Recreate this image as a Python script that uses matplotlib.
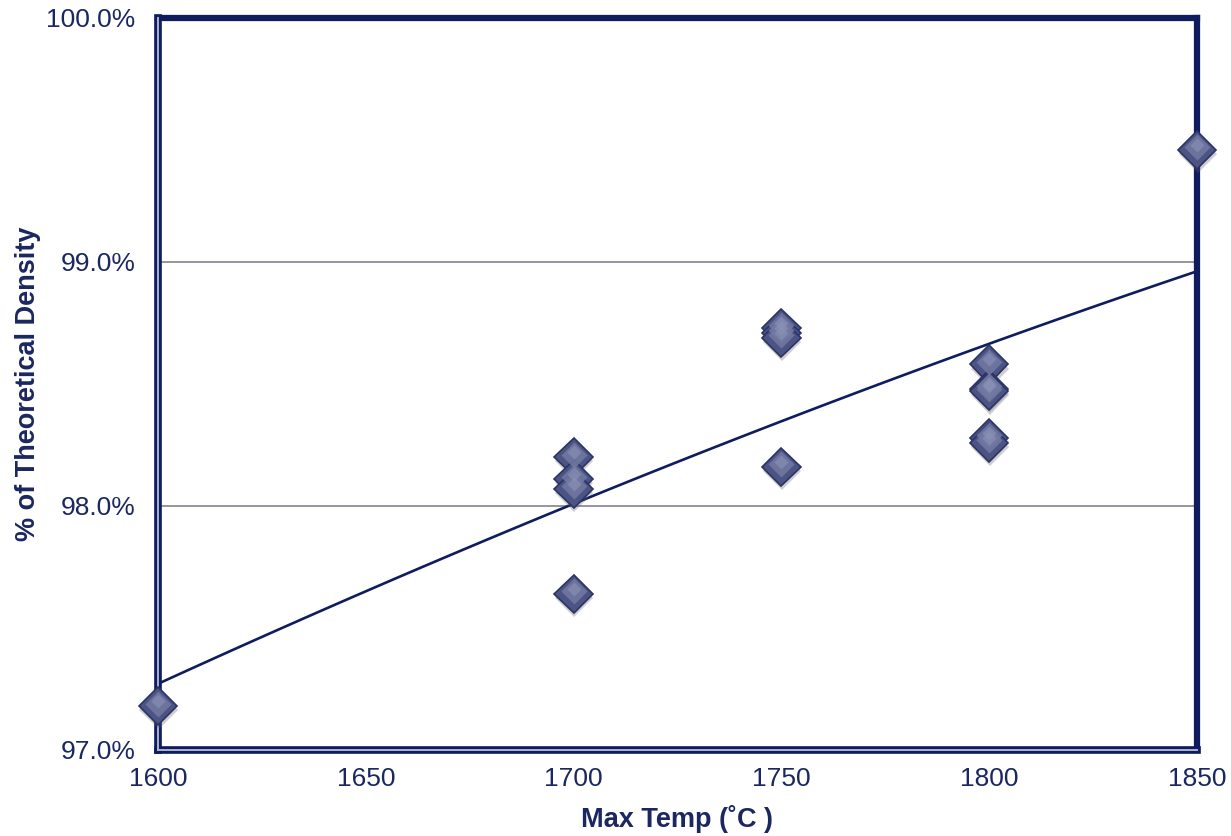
import numpy as np
import matplotlib
matplotlib.use('agg')
import matplotlib.pyplot as plt
import matplotlib.patheffects as pe
from matplotlib.transforms import ScaledTranslation

plt.rcParams['font.family'] = ['Liberation Sans', 'DejaVu Sans']

# max temperature (C) and measured density (% of theoretical)
temps = [1600,
         1700, 1700, 1700, 1700,
         1750, 1750, 1750, 1750,
         1800, 1800, 1800, 1800, 1800,
         1850]
density = [97.18,
           98.20, 98.11, 98.07, 97.64,
           98.73, 98.71, 98.69, 98.16,
           98.58, 98.48, 98.47, 98.28, 98.26,
           99.46]

# trendline values (slightly curved)
trend_x = [1600, 1650, 1700, 1750, 1800, 1850]
trend_y = [97.27, 97.656, 98.0, 98.35, 98.668, 98.96]

x_ticks = [1600, 1650, 1700, 1750, 1800, 1850]
y_ticks = [97.0, 98.0, 99.0, 100.0]

navy = '#0f1c5e'
label_col = '#1a2760'

fig = plt.figure(figsize=(12.31, 8.36), dpi=100)
ax = fig.add_axes([0.1283, 0.1029, 0.9724 - 0.1283, 0.9785 - 0.1029])

ax.set_xlim(1600, 1850)
ax.set_ylim(97, 100)

for y in [98.0, 99.0]:
    ax.axhline(y, color='#8c8c98', lw=1.3, zorder=1)

coef = np.polyfit(trend_x, trend_y, 2)
xs = np.linspace(trend_x[0], trend_x[-1], 100)
ax.plot(xs, np.polyval(coef, xs), color=navy, lw=1.9, zorder=2)

shadow = [pe.SimplePatchShadow(offset=(0.5, -3), shadow_rgbFace='#606060', alpha=0.3),
          pe.Normal()]
ax.plot(temps, density, 'D', ms=19.5, mfc='#4b5483', mec='#2b3466', mew=1.2,
        clip_on=False, zorder=4, path_effects=shadow)
# lighter upper part to mimic the gradient fill
up = ax.transData + ScaledTranslation(0, 2.5 / 100, fig.dpi_scale_trans)
ax.plot(temps, density, 'D', ms=13, mfc='#727aa3', mec='none',
        clip_on=False, zorder=5, alpha=0.85, transform=up)
up2 = ax.transData + ScaledTranslation(0, 5 / 100, fig.dpi_scale_trans)
ax.plot(temps, density, 'D', ms=7, mfc='#8c93b8', mec='none',
        clip_on=False, zorder=6, alpha=0.6, transform=up2)

for s in ['top', 'right']:
    ax.spines[s].set_linewidth(4.5)
    ax.spines[s].set_color(navy)
for s in ['left', 'bottom']:
    ax.spines[s].set_linewidth(5.5)
    ax.spines[s].set_color(navy)
ax.axvline(1600, color='#aeb4cc', lw=1.4, zorder=3, clip_on=False)
ax.axhline(97, color='#aeb4cc', lw=1.4, zorder=3, clip_on=False)

ax.set_xticks(x_ticks)
ax.set_yticks(y_ticks)
ax.set_xticklabels([str(t) for t in x_ticks])
ax.set_yticklabels(['%.1f%%' % t for t in y_ticks])
ax.tick_params(length=0, labelsize=19, labelcolor=label_col)
ax.tick_params(axis='y', pad=16)
ax.tick_params(axis='x', pad=12)

ax.set_xlabel('Max Temp (˚C )', fontsize=19.5, fontweight='bold', color=label_col, labelpad=10)
ax.set_ylabel('% of Theoretical Density', fontsize=19.5, fontweight='bold', color=label_col, labelpad=4)

fig.savefig('out.png', dpi=100)
